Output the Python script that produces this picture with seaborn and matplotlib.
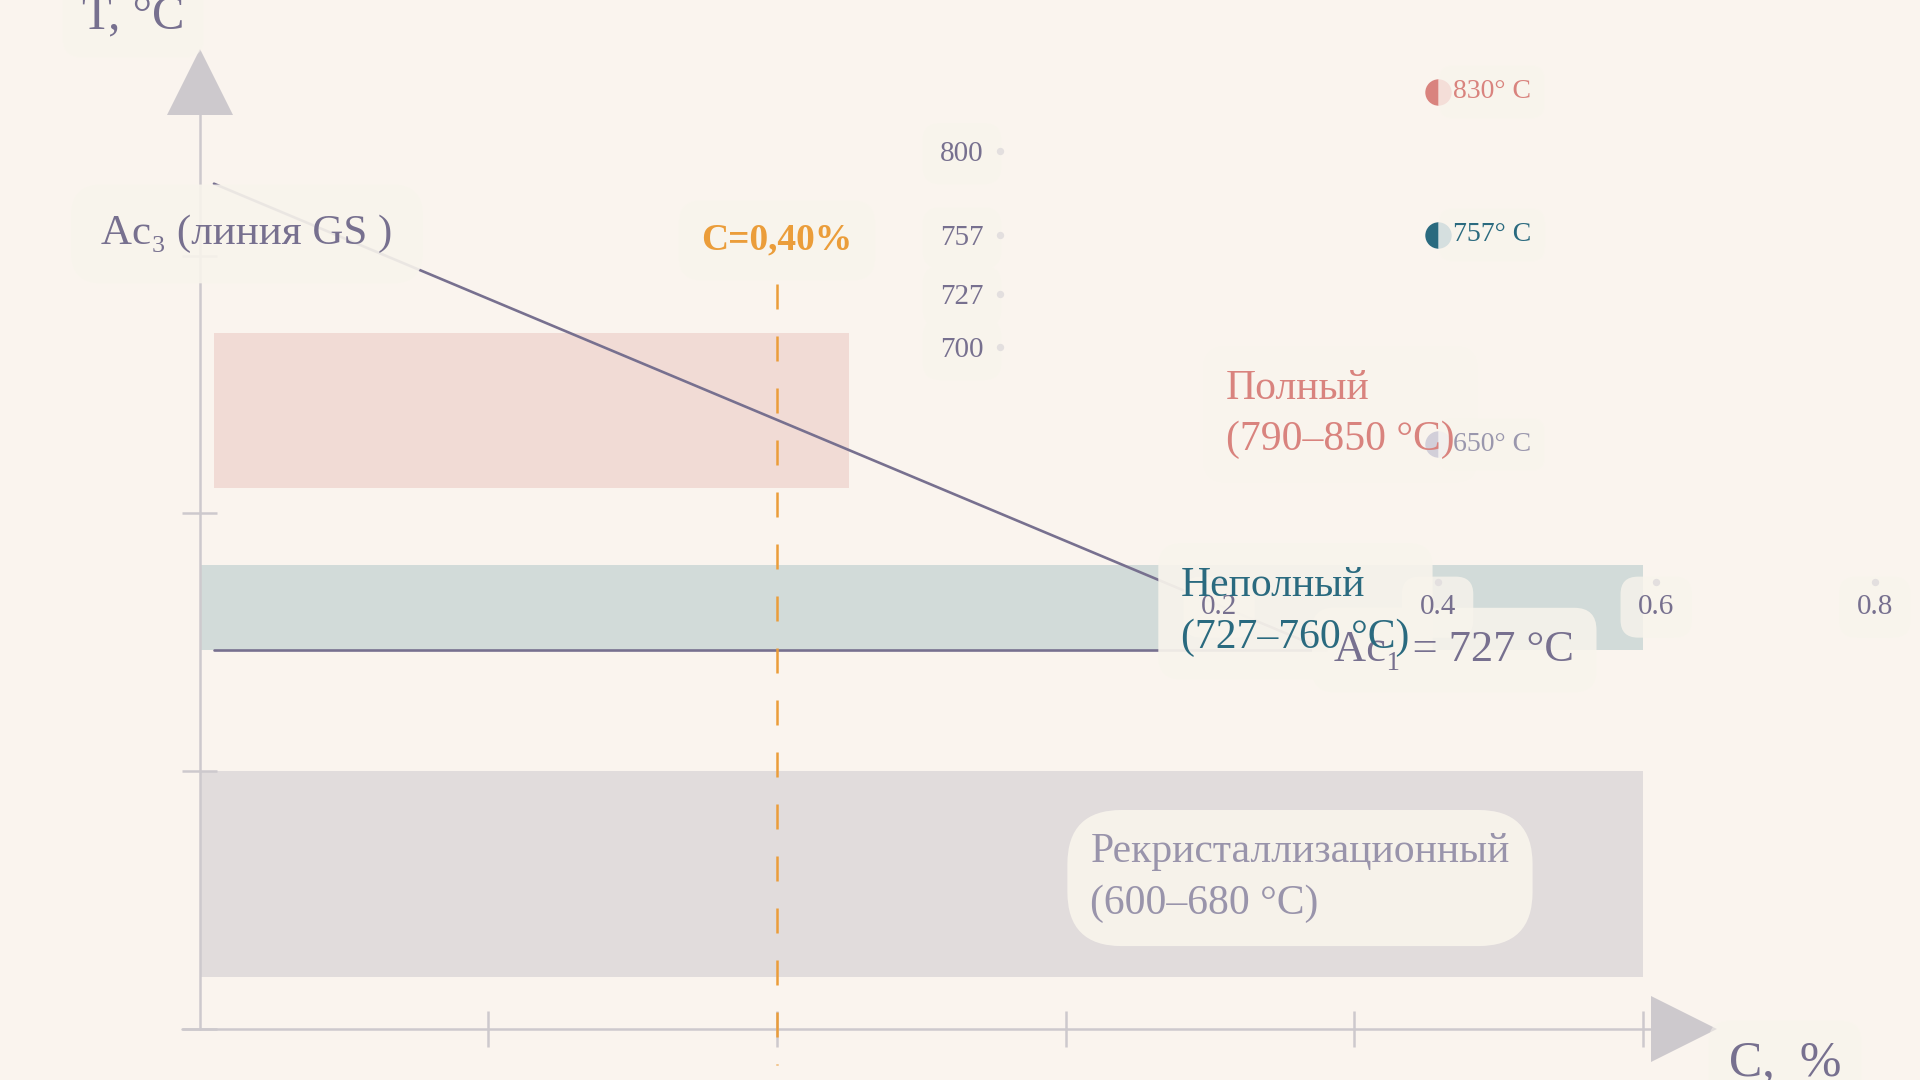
import matplotlib
matplotlib.use("Agg")
import matplotlib.pyplot as plt
import seaborn as sns

# ─────────────────────────────────────────────
# DATA — отжиг стали, схема по диаграмме Fe–C
# ─────────────────────────────────────────────
ZONE_NAMES   = ["Полный", "Неполный", "Рекристаллизационный"]
ZONE_RANGES  = ["(790–850 °C)", "(727–760 °C)", "(600–680 °C)"]
ZONE_T_LOW   = [790, 727, 600]
ZONE_T_HIGH  = [850, 760, 680]
ZONE_C_FROM  = [0.01, 0.0, 0.0]
ZONE_C_TO    = [0.45, 1.0, 1.0]
ZONE_LABEL_C = [0.711, 0.680, 0.617]

AC3_C = [0.01, 0.78]
AC3_T = [908, 727]
AC1_C = [0.01, 0.78]
AC1_T = [727, 727]

STEEL_C = 0.40
STEEL_LINE_T = [869, 566]

X_TICKS = [0.2, 0.4, 0.6, 0.8, 1.0]
Y_TICKS = [580, 680, 780, 880]
T_AXIS_MIN = 580
T_AXIS_TOP = 935

# small scale with the chosen temperatures for C = 0.40 %
SCALE_X_TICKS = [0.2, 0.4, 0.6, 0.8]
SCALE_Y_TICKS = [700, 727, 757, 800]
SCALE_Y_BASE = 580
CHOSEN_C = 0.40
CHOSEN_T = [830, 757, 650]

# ─────────────────────────────────────────────
# STYLE
# ─────────────────────────────────────────────
BG      = "#faf4ee"
INK     = "#77708f"
AXIS    = "#cdc9cd"
ORANGE  = "#eb9d3a"
GLOW    = "#f8f4ec"
ZONE_FILL  = ["#f1dbd5", "#d2dbd9", "#e1dcdc"]
ZONE_TEXT  = ["#d9837e", "#2a6a7f", "#9994ab"]
CHOSEN_COL = ["#d9837e", "#2a6a7f", "#d2cfd9"]
CHOSEN_ALT = ["#f0c9c5", "#b3cbd2", "#eceaef"]
CHOSEN_TXT = ["#d9837e", "#2a6a7f", "#9a97ad"]

sns.set_theme(style="white")
plt.rcParams["font.family"] = ["Liberation Serif", "DejaVu Serif"]

fig = plt.figure(figsize=(19.2, 10.8), dpi=100, facecolor=BG)
ax = fig.add_axes([0, 0, 1, 1], zorder=0)
ax.set_xlim(-0.1382, 1.1917)
ax.set_ylim(560.1, 979.3)
ax.set_axis_off()


def glow_label(x, y, s, color, size, ha="left", va="center", pad=0.6,
               weight="normal", rounding=None, alpha=0.9, ls=1.45):
    """Glow box sits in the main axes, the text itself goes on top of everything."""
    style = f"round,pad={pad}" + (f",rounding_size={rounding}" if rounding else "")
    ax.text(x, y, s, fontsize=size, ha=ha, va=va, color="none", weight=weight,
            linespacing=ls, zorder=6,
            bbox=dict(boxstyle=style, fc=GLOW, ec="none", alpha=alpha))
    fig.text(x, y, s, transform=ax.transData, fontsize=size, ha=ha, va=va,
             color=color, weight=weight, linespacing=ls, zorder=5)


# ── zones ──
for i in range(len(ZONE_NAMES)):
    ax.bar(ZONE_C_FROM[i], ZONE_T_HIGH[i] - ZONE_T_LOW[i], bottom=ZONE_T_LOW[i],
           width=ZONE_C_TO[i] - ZONE_C_FROM[i], align="edge",
           color=ZONE_FILL[i], edgecolor="none", zorder=1)

# ── axes with arrows ──
ax.plot([0, 0], [T_AXIS_MIN, T_AXIS_TOP], color=AXIS, lw=1.8, zorder=2)
ax.plot([-0.012, 1.005], [T_AXIS_MIN, T_AXIS_MIN], color=AXIS, lw=1.8, zorder=2)
ax.plot(0, T_AXIS_TOP + 12.5, marker="^", ms=47, color=AXIS, mew=0, zorder=2)
ax.plot(1.028, T_AXIS_MIN, marker=">", ms=47, color=AXIS, mew=0, zorder=2)
ax.hlines(Y_TICKS, -0.0123, 0.0123, color=AXIS, lw=1.8, zorder=2)
ax.vlines(X_TICKS, T_AXIS_MIN - 7, T_AXIS_MIN + 7, color=AXIS, lw=1.8, zorder=2)

# ── critical lines ──
sns.lineplot(x=AC3_C, y=AC3_T, ax=ax, color=INK, lw=1.9, zorder=3)
sns.lineplot(x=AC1_C, y=AC1_T, ax=ax, color=INK, lw=1.9, zorder=3)
ax.plot([STEEL_C, STEEL_C], STEEL_LINE_T, color=ORANGE, lw=1.8,
        ls=(0, (10, 10.8)), zorder=3)

# ── labels ──
glow_label(-0.0814, 968.4, "T, °C", INK, 35, va="baseline", pad=0.4, alpha=0.5)
glow_label(1.0593, 561.5, "C,  %", INK, 36, va="baseline", pad=0.4, alpha=0.5)
glow_label(-0.068, 888.5, "Ac₃ (линия GS )", INK, 31, pad=0.7)
glow_label(STEEL_C, 886, f"C={STEEL_C:.2f}%".replace(".", ","), ORANGE, 27,
           ha="center", weight="bold", pad=0.6, alpha=0.6)
glow_label(AC1_C[-1] + 0.006, AC1_T[-1], f"Ac₁ = {AC1_T[-1]} °C", INK, 32,
           pad=0.5, alpha=0.85)
for i in range(len(ZONE_NAMES)):
    mid = (ZONE_T_LOW[i] + ZONE_T_HIGH[i]) / 2
    glow_label(ZONE_LABEL_C[i], mid - 1.5, f"{ZONE_NAMES[i]}\n{ZONE_RANGES[i]}",
               ZONE_TEXT[i], 30, pad=0.55, rounding=1.3 if i == 2 else None,
               alpha=0.3 if i == 0 else 0.92)

# ── small temperature scale (inner axes) ──
ax_in = fig.add_axes([0, 0, 1, 1], facecolor="none", zorder=1)
ax_in.set_xlim(-0.9154, 0.8414)
ax_in.set_ylim(325.6, 876.9)
for sp in ax_in.spines.values():
    sp.set_visible(False)
ax_in.spines["left"].set_position(("data", 0))
ax_in.spines["bottom"].set_position(("data", SCALE_Y_BASE))
ax_in.set_xticks(SCALE_X_TICKS)
ax_in.set_xticklabels([f"{v:.1f}" for v in SCALE_X_TICKS])
ax_in.set_yticks(SCALE_Y_TICKS)
ax_in.tick_params(length=0, labelsize=21, labelcolor=INK)
ax_in.tick_params(axis="y", pad=12)
ax_in.tick_params(axis="x", pad=9)
for lab in ax_in.get_xticklabels() + ax_in.get_yticklabels():
    lab.set_bbox(dict(boxstyle="round,pad=0.6", fc=GLOW, ec="none", alpha=0.8))
ax_in.scatter([0] * len(SCALE_Y_TICKS), SCALE_Y_TICKS, s=28, color="#e3dfdf",
              linewidths=0, zorder=2)
ax_in.scatter(SCALE_X_TICKS, [SCALE_Y_BASE] * len(SCALE_X_TICKS), s=28,
              color="#e3dfdf", linewidths=0, zorder=2)

for t, col, alt, tcol in zip(CHOSEN_T, CHOSEN_COL, CHOSEN_ALT, CHOSEN_TXT):
    ax_in.plot(CHOSEN_C, t, marker="o", ms=19, fillstyle="left", mfc=col,
               mfcalt=alt, mew=0, zorder=3)
    ax_in.annotate(f"{t}° C", (CHOSEN_C, t), xytext=(11, 0),
                   textcoords="offset points", ha="left", va="center",
                   fontsize=20, color=tcol, zorder=4,
                   bbox=dict(boxstyle="round,pad=0.5", fc=GLOW, ec="none", alpha=0.5))

fig.savefig("out.png", dpi=100, facecolor=BG)
plt.close(fig)
